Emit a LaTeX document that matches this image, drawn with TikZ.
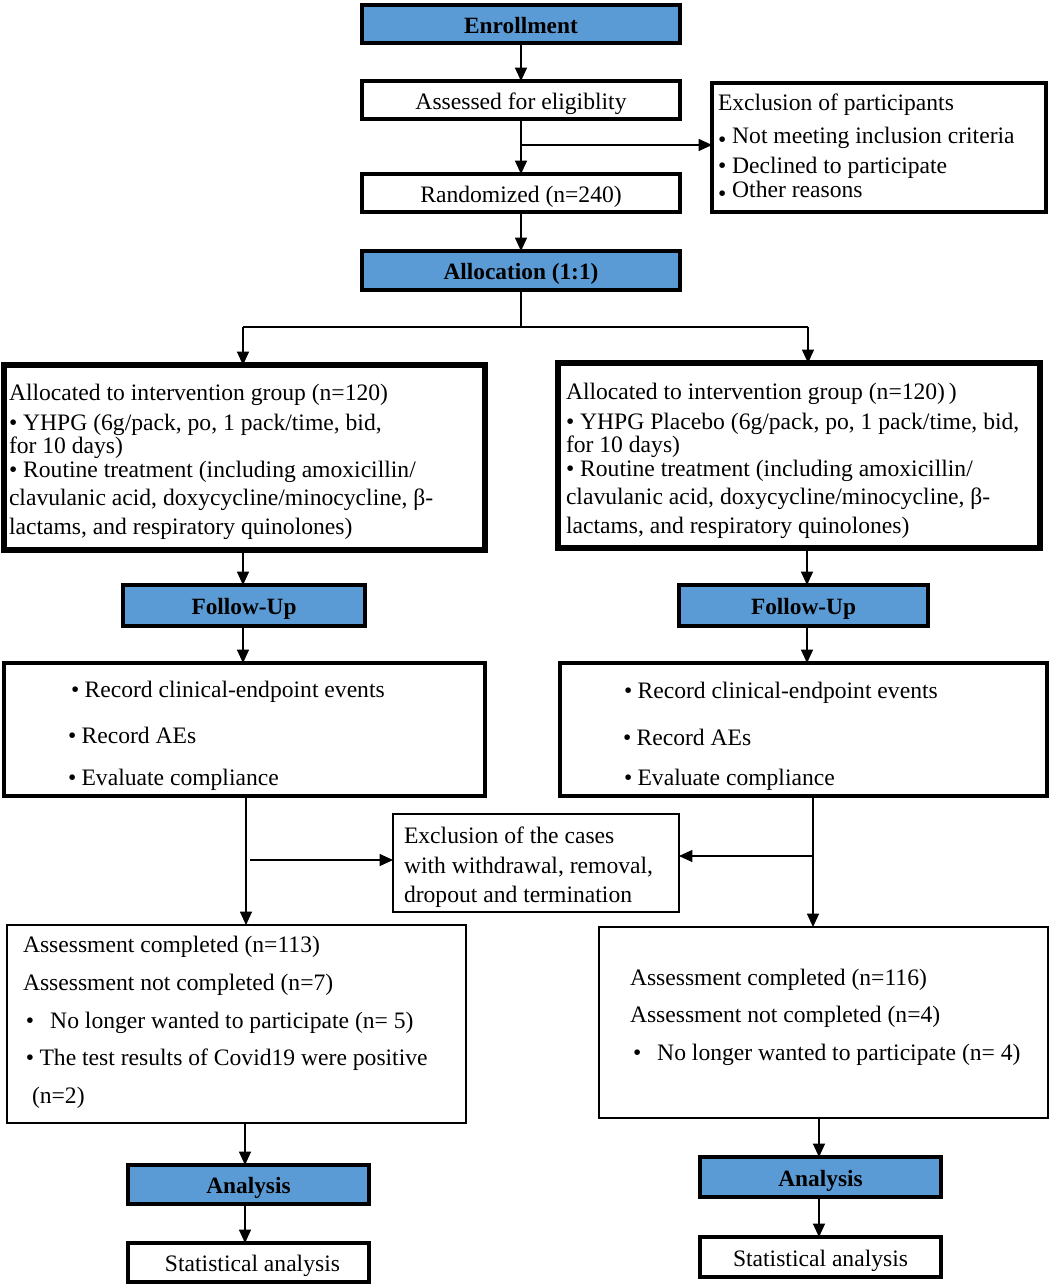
\documentclass[tikz,border=0pt]{standalone}
\usepackage{fontspec}
\setmainfont{Liberation Serif}
\usetikzlibrary{arrows.meta}
\definecolor{hdrblue}{HTML}{5B9BD5}
\newcommand\bx[7]{\node[#6, minimum width={(#4-#2)*0.75pt}, minimum height={(#5-#3)*0.75pt}] (#1) at ({(#2+#4)/2},{(#3+#5)/2}) {#7};}
\newcommand\lowbul{\raisebox{-0.45ex}{•}}
\tikzset{
  box/.style={draw=black, fill=white, rectangle, inner sep=0pt, outer sep=0pt, line width=2.6pt, font=\fontsize{17.7}{21}\selectfont, text height=13.6pt, text depth=0pt},
  hdr/.style={box, fill=hdrblue, font=\fontsize{17.5}{21}\selectfont\bfseries},
  bigbox/.style={box, line width=4pt},
  midbox/.style={box, line width=2.2pt},
  txt/.style={inner sep=0pt, outer sep=0pt, anchor=base west, font=\fontsize{17.7}{21}\selectfont},
  arr/.style={line width=0.8pt, -{Triangle[length=10pt,width=9pt]}},
  ln/.style={line width=0.8pt},
}
\begin{document}
\begin{tikzpicture}[x=0.75pt,y=-0.75pt]
\fill[white] (0,0) rectangle (1052,1285);
\useasboundingbox (0,0) rectangle (1052,1285);

% top column
\bx{enr}{362}{5}{680}{43}{hdr}{Enrollment}
\bx{ass}{362}{81}{680}{119}{box}{Assessed for eligiblity}
\bx{rnd}{362}{174}{680}{212}{box}{Randomized (n=240)}
\bx{alc}{362}{251}{680}{290}{hdr}{Allocation (1:1)}
\bx{exa}{712}{83}{1046}{212}{box}{}

\node[txt] (exa1) at (718,110) {Exclusion of participants};
\node[txt] (exa2) at (718,143) {\lowbul\ Not meeting inclusion criteria};
\node[txt] (exa3) at (718,173) {• Declined to participate};
\node[txt] (exa4) at (718,197) {\lowbul\ Other reasons};

\draw[arr] (enr.south) -- (ass.north);
\draw[arr] (ass.south) -- (rnd.north);
\coordinate (j1) at (521,145);
\draw[arr] (j1) -- (j1 -| exa.west);
\draw[arr] (rnd.south) -- (alc.north);

% allocation boxes
\bx{inL}{4}{365}{485}{550}{bigbox}{}
\bx{inR}{558}{363}{1040}{548}{bigbox}{}

\node[txt] (l1) at (9,400) {Allocated to intervention group (n=120)};
\node[txt] (l2) at (9,430) {• YHPG (6g/pack, po, 1 pack/time, bid,};
\node[txt] (l3) at (9,453) {for 10 days)};
\node[txt] (l4) at (9,477) {• Routine treatment (including amoxicillin/};
\node[txt] (l5) at (9,505) {clavulanic acid, doxycycline/minocycline, β-};
\node[txt] (l6) at (9,534) {lactams, and respiratory quinolones)};

\node[txt] (r1) at (566,399) {Allocated to intervention group (n=120)\,)};
\node[txt] (r2) at (566,429) {• YHPG Placebo (6g/pack, po, 1 pack/time, bid,};
\node[txt] (r3) at (566,452) {for 10 days)};
\node[txt] (r4) at (566,476) {• Routine treatment (including amoxicillin/};
\node[txt] (r5) at (566,504) {clavulanic acid, doxycycline/minocycline, β-};
\node[txt] (r6) at (566,533) {lactams, and respiratory quinolones)};

\coordinate (sp) at (alc.south |- 0,327);
\coordinate (tL) at (243,327);
\coordinate (tR) at (808,327);
\draw[ln] (alc.south) -- (sp);
\draw[ln] (tL) -- (tR);
\draw[arr] (tL) -- (tL |- inL.north);
\draw[arr] (tR) -- (tR |- inR.north);

% follow-up
\bx{fuL}{123}{585}{365}{626}{hdr}{Follow-Up}
\bx{fuR}{679}{585}{928}{626}{hdr}{Follow-Up}
\coordinate (cL) at (243,0);
\coordinate (cR) at (807,0);
\draw[arr] (cL |- inL.south) -- (cL |- fuL.north);
\draw[arr] (cR |- inR.south) -- (cR |- fuR.north);

\bx{rcL}{4}{663}{485}{796}{box}{}
\bx{rcR}{560}{663}{1047}{796}{box}{}
\draw[arr] (cL |- fuL.south) -- (cL |- rcL.north);
\draw[arr] (cR |- fuR.south) -- (cR |- rcR.north);

\node[txt] (rl1) at (71,697) {•\hspace{4pt}Record clinical-endpoint events};
\node[txt] (rl2) at (68,743) {•\hspace{4pt}Record AEs};
\node[txt] (rl3) at (68,785) {•\hspace{4pt}Evaluate compliance};
\node[txt] (rr1) at (624,698) {•\hspace{4pt}Record clinical-endpoint events};
\node[txt] (rr2) at (623,745) {•\hspace{4pt}Record AEs};
\node[txt] (rr3) at (624,785) {•\hspace{4pt}Evaluate compliance};

% exclusion mid
\bx{exm}{393}{814}{679}{912}{midbox}{}
\node[txt] (m1) at (404,843) {Exclusion of the cases};
\node[txt] (m2) at (404,873) {with withdrawal, removal,};
\node[txt] (m3) at (404,902) {dropout and termination};

% assessment
\bx{asL}{7}{925}{466}{1123}{midbox}{}
\bx{asR}{599}{927}{1048}{1118}{midbox}{}

\coordinate (dL) at (246,0);
\coordinate (dR) at (813,0);
\draw[arr] (dL |- rcL.south) -- (dL |- asL.north);
\draw[arr] (dR |- rcR.south) -- (dR |- asR.north);
\coordinate (hL) at (250,860);
\coordinate (hR) at (813,856);
\draw[arr] (hL) -- (hL -| exm.west);
\draw[arr] (hR) -- (hR -| exm.east);

\node[txt] (al1) at (23,952) {Assessment completed (n=113)};
\node[txt] (al2) at (23,990) {Assessment not completed (n=7)};
\node[txt] (al3) at (26,1028) {•\hspace{12pt}No longer wanted to participate (n= 5)};
\node[txt] (al4) at (26,1065) {•\hspace{4pt}The test results of Covid19 were positive};
\node[txt] (al5) at (32,1103) {(n=2)};

\node[txt] (ar1) at (630,985) {Assessment completed (n=116)};
\node[txt] (ar2) at (630,1022) {Assessment not completed (n=4)};
\node[txt] (ar3) at (633,1060) {•\hspace{12pt}No longer wanted to participate (n= 4)};

% analysis
\bx{anL}{128}{1165}{369}{1204}{hdr}{Analysis}
\bx{stL}{128}{1243}{369}{1282}{box}{\hspace{6pt}Statistical analysis}
\bx{anR}{700}{1157}{941}{1197}{hdr}{Analysis}
\bx{stR}{700}{1237}{941}{1277}{box}{Statistical analysis}

\coordinate (eL) at (245,0);
\coordinate (eR) at (819,0);
\draw[arr] (eL |- asL.south) -- (eL |- anL.north);
\draw[arr] (eL |- anL.south) -- (eL |- stL.north);
\draw[arr] (eR |- asR.south) -- (eR |- anR.north);
\draw[arr] (eR |- anR.south) -- (eR |- stR.north);
\end{tikzpicture}
\end{document}
